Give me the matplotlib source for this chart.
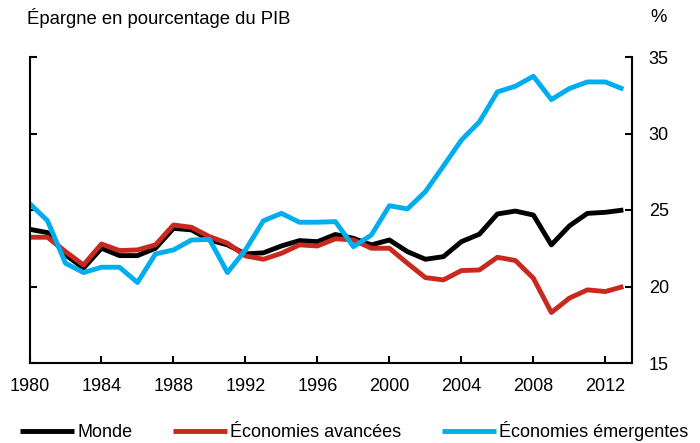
import matplotlib
matplotlib.use("Agg")
import numpy as np
from matplotlib import pyplot as plt

plt.rcParams['font.family'] = ['Liberation Sans', 'DejaVu Sans']

years = list(range(1980, 2014))

# Monde
monde = [23.74, 23.52, 22.07, 21.2, 22.5, 22.02, 22.02, 22.5, 23.8, 23.7,
         23.04, 22.72, 22.13, 22.2, 22.65, 23.0, 22.93, 23.4, 23.15, 22.72,
         23.04, 22.28, 21.78, 21.95, 22.93, 23.42, 24.74, 24.93, 24.67, 22.72,
         23.96, 24.78, 24.85, 25.0]
# Economies avancees
avancees = [23.22, 23.22, 22.28, 21.41, 22.78, 22.35, 22.39, 22.72, 24.02, 23.87,
            23.26, 22.83, 22.0, 21.78, 22.17, 22.72, 22.65, 23.12, 23.04, 22.5,
            22.5, 21.52, 20.58, 20.43, 21.04, 21.08, 21.91, 21.7, 20.54, 18.3,
            19.24, 19.78, 19.67, 20.0]
# Economies emergentes
emergentes = [25.43, 24.3, 21.52, 20.91, 21.26, 21.26, 20.26, 22.13, 22.39, 23.04,
              23.08, 20.91, 22.39, 24.3, 24.78, 24.2, 24.2, 24.24, 22.6, 23.37,
              25.28, 25.07, 26.2, 27.87, 29.57, 30.76, 32.72, 33.09, 33.74, 32.22,
              32.94, 33.37, 33.37, 32.9]

xticks = list(range(1980, 2013, 4))
yticks = [15, 20, 25, 30, 35]

fig = plt.figure(figsize=(7, 4.43), dpi=100)
ax = fig.add_axes([29.5/700, 1-363/443, 602.5/700, 306/443])

ax.plot(years, monde, color='black', lw=3.5, label='Monde', solid_capstyle='butt')
ax.plot(years, avancees, color='#C8281E', lw=3.5, label='Économies avancées', solid_capstyle='butt')
ax.plot(years, emergentes, color='#00AEEF', lw=3.5, label='Économies émergentes', solid_capstyle='butt')

ax.set_xlim(1980, 2013.48)
ax.set_ylim(15, 35)
ax.set_xticks(xticks)
ax.set_yticks(yticks)
ax.spines['top'].set_visible(False)
for s in ['left', 'right', 'bottom']:
    ax.spines[s].set_linewidth(1.5)
ax.yaxis.tick_right()
ax.tick_params(axis='y', which='both', direction='in', length=5, width=1.5,
               left=True, right=True, labelleft=False, labelright=True,
               labelsize=13, pad=12)
ax.tick_params(axis='x', direction='in', length=5, width=1.5, labelsize=13, pad=11)

fig.text(27/700, 1-18/443, 'Épargne en pourcentage du PIB', fontsize=13.3, va='center')
fig.text(650/700, 1-18/443, '%', fontsize=13.3, va='center')

fig.legend(loc='center left', bbox_to_anchor=(20/700, 1-431/443), ncol=3,
           frameon=False, fontsize=13, handlelength=3.0, handletextpad=0.17,
           columnspacing=2.25, borderaxespad=0, borderpad=0)

fig.savefig('out.png', dpi=100)
